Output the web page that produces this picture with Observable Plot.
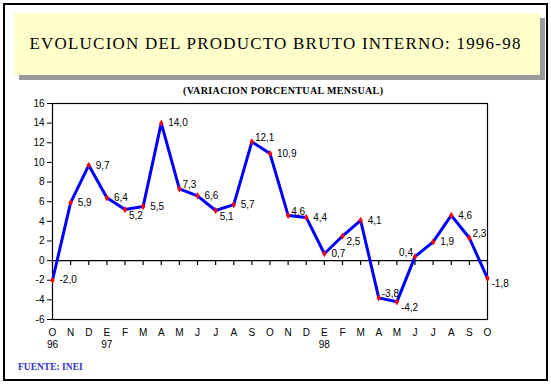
<!DOCTYPE html>
<html>
<head>
<meta charset="utf-8">
<script src="https://cdn.jsdelivr.net/npm/d3@7"></script>
<script src="https://cdn.jsdelivr.net/npm/@observablehq/plot@0.6"></script>
<style>
  html, body { margin: 0; padding: 0; background: #fff; }
  #page { position: relative; width: 551px; height: 384px; overflow: hidden; background: #fff; }
  #border { position: absolute; left: 3px; top: 3px; width: 541px; height: 374px; border: 2px solid #000; }
  #titlebox { position: absolute; left: 14px; top: 13px; width: 526px; height: 62px; background: #ffffcc; box-shadow: 5px 5px 0 #999999; }
  #title { position: absolute; left: 0; top: 44px; width: 551px; text-align: center; transform: translateY(-50%);
           font-family: "Liberation Serif", serif; font-size: 17px; color: #000; white-space: nowrap; }
  #title span, #subtitle span { display: inline-block; }
  #subtitle { position: absolute; left: 183px; top: 90px; transform: translateY(-50%);
              font-family: "Liberation Serif", serif; font-weight: bold; font-size: 10px; white-space: nowrap; }
  #chart { position: absolute; left: 0; top: 95px; }
  #source { position: absolute; left: 18px; top: 367px; transform: translateY(-50%);
            font-family: "Liberation Serif", serif; font-weight: bold; font-size: 9.5px; color: #3333cc; white-space: nowrap; }
</style>
</head>
<body>
<div id="page">
  <div id="border"></div>
  <div id="titlebox"></div>
  <div id="title"><span id="titletext">EVOLUCION DEL PRODUCTO BRUTO INTERNO: 1996-98</span></div>
  <div id="subtitle"><span id="subtext">(VARIACION PORCENTUAL MENSUAL)</span></div>
  <div id="chart"></div>
  <div id="source">FUENTE: INEI</div>
</div>
<script>
// ---- data ----
const months = ["O","N","D","E","F","M","A","M","J","J","A","S","O","N","D","E","F","M","A","M","J","J","A","S","O"];
const yearLabels = ["96","97","98"];
const yearAt = [0, 3, 15];
const values = [-2.0, 5.9, 9.7, 6.4, 5.2, 5.5, 14.0, 7.3, 6.6, 5.1, 5.7, 12.1, 10.9, 4.6, 4.4, 0.7, 2.5, 4.1, -3.8, -4.2, 0.4, 1.9, 4.6, 2.3, -1.8];
const labelPlacement = ["r","r","r","r","rd","r","r","ru","r","rd","r","ru","r","ru","r","r","rd","r","ru","rd","lu","r","r","ru","rd"];
const yTicks = [-6,-4,-2,0,2,4,6,8,10,12,14,16];

const data = values.map((v, i) => ({i, v, label: v.toFixed(1).replace(".", ","), place: labelPlacement[i]}));
const idx = months.map((_, i) => i);

// fit text widths
function fit(id, target) {
  const el = document.getElementById(id);
  const n = el.textContent.length;
  const w = el.getBoundingClientRect().width;
  el.style.letterSpacing = ((target - w) / (n - 1)) + "px";
}
fit("titletext", 491);
fit("subtext", 200);

const font = "'Liberation Sans', Arial, sans-serif";
const lbl = (place, opts) => Plot.text(data.filter(d => d.place === place), {
  x: "i", y: "v", text: "label", fontSize: 10, fill: "#000", ...opts
});

const chart = Plot.plot({
  width: 551,
  height: 260,
  marginTop: 8,
  marginLeft: 52,
  marginRight: 64,
  marginBottom: 36,
  style: {fontFamily: font, fontSize: "10px", color: "#000", background: "transparent"},
  x: {type: "linear", domain: [0, months.length - 1]},
  y: {domain: [-6, 16]},
  marks: [
    Plot.frame({stroke: "#000", strokeWidth: 1.2}),
    Plot.ruleY([0], {stroke: "#000", strokeWidth: 1.2}),
    Plot.ruleX(idx, {y1: 0, y2: -0.5, stroke: "#000", strokeWidth: 1.2}),
    Plot.axisY({ticks: yTicks, tickSize: 5, tickPadding: 3, tickFormat: d => String(d), label: null, fontSize: 10}),
    Plot.axisX({ticks: idx, tickSize: 0, tickPadding: 9, tickFormat: i => months[i], label: null, fontSize: 10}),
    Plot.axisX({ticks: yearAt, tickSize: 0, tickPadding: 21, tickFormat: i => yearLabels[yearAt.indexOf(i)], label: null, fontSize: 10}),
    Plot.line(data, {x: "i", y: "v", stroke: "#0000ff", strokeWidth: 3, strokeLinejoin: "round"}),
    Plot.dot(data, {x: "i", y: "v", symbol: "diamond", r: 2.2, fill: "red"})
  ].concat([
    lbl("r", {textAnchor: "start", dx: 7, dy: 0}),
    lbl("rd", {textAnchor: "start", dx: 4, dy: 6}),
    lbl("ru", {textAnchor: "start", dx: 3, dy: -4}),
    lbl("lu", {textAnchor: "end", dx: -2, dy: -4})
  ])
});
document.getElementById("chart").appendChild(chart);
</script>
</body>
</html>
